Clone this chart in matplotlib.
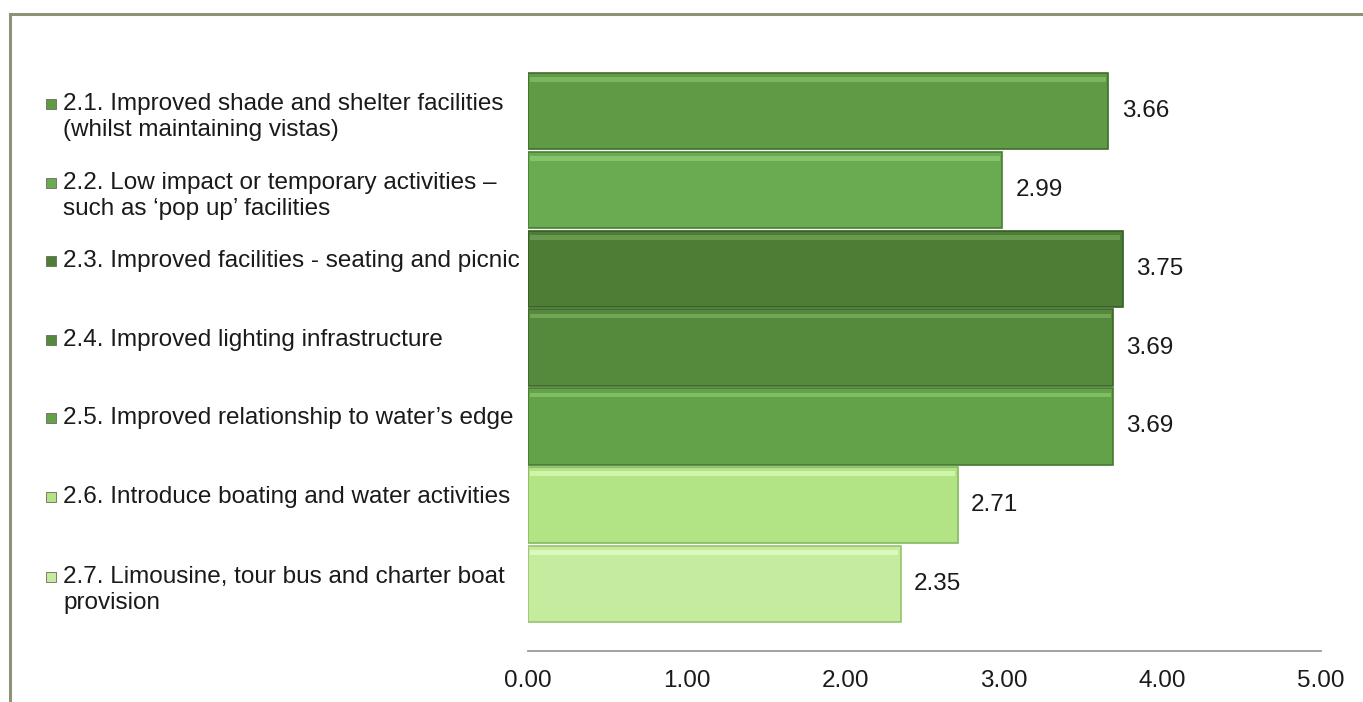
import matplotlib
matplotlib.use("Agg")
import matplotlib.pyplot as plt
from matplotlib.lines import Line2D

categories = [
    "2.1. Improved shade and shelter facilities\n(whilst maintaining vistas)",
    "2.2. Low impact or temporary activities \u2013\nsuch as \u2018pop up\u2019 facilities",
    "2.3. Improved facilities - seating and picnic",
    "2.4. Improved lighting infrastructure",
    "2.5. Improved relationship to water\u2019s edge",
    "2.6. Introduce boating and water activities",
    "2.7. Limousine, tour bus and charter boat\nprovision",
]
values = [3.66, 2.99, 3.75, 3.69, 3.69, 2.71, 2.35]
value_labels = ["3.66", "2.99", "3.75", "3.69", "3.69", "2.71", "2.35"]
colors = ["#5f9a45", "#6aaa50", "#4e7e36", "#558a3c", "#64a24a", "#b2e384", "#c5eb9f"]
edge_colors = ["#3f6e2c", "#477f32", "#355d24", "#3a6628", "#437a30", "#86b860", "#96c472"]
highlight = ["#7cb560", "#86c46a", "#6a9a50", "#70a656", "#80bd64", "#d0f4aa", "#dcf8bd"]
xticks = [0, 1, 2, 3, 4, 5]
xtick_labels = ["0.00", "1.00", "2.00", "3.00", "4.00", "5.00"]

plt.rcParams['font.family'] = ['Liberation Sans', 'DejaVu Sans']
FS = 17.5

fig = plt.figure(figsize=(13.63, 7.02), dpi=100)
ax = fig.add_axes([528/1363, 51/702, (1321-528)/1363, (672-51)/702])

n = len(categories)
ypos = [n - 1 - i for i in range(n)]

ax.barh(ypos, values, height=0.97, color=colors, edgecolor=edge_colors, linewidth=1.2, zorder=2)
# glossy highlight strip near top of each bar
ax.barh([y + 0.40 for y in ypos], [v - 0.03 for v in values], height=0.06, left=0.015,
        color=highlight, linewidth=0, zorder=3)

for y, v, lab in zip(ypos, values, value_labels):
    ax.annotate(lab, (v, y), xytext=(9.5, 0), textcoords="offset points",
                va="center", ha="left", fontsize=FS, color="#1a1a1a")

ax.set_xlim(0.0, 5.0)
ax.set_ylim(-0.85, 7.03)
ax.set_xticks(xticks)
ax.set_xticklabels(xtick_labels, fontsize=FS, color="#1a1a1a")
ax.tick_params(axis="x", length=0, pad=14)
ax.set_yticks([])
for s in ["top", "right", "left"]:
    ax.spines[s].set_visible(False)
ax.spines["bottom"].set_color("#9a9a9a")
ax.spines["bottom"].set_linewidth(1.3)
ax.patch.set_alpha(0)

H = 702
# category labels with small square markers
for y, cat, c in zip(ypos, categories, colors):
    disp = ax.transData.transform((0, y))
    fy = disp[1] / fig.bbox.height
    nl = cat.count("\n")
    if nl == 0:
        fy += 8 / H
        first = fy
    else:
        fy -= 6 / H
        first = fy + 13 / H
    fig.text(63/1363, fy, cat, ha="left", va="center", fontsize=FS,
             color="#1a1a1a", linespacing=1.2)
    fig.add_artist(Line2D([51/1363], [first], marker="s", markersize=7.5,
                          color=c, markeredgecolor="#6a6a5a", markeredgewidth=0.6,
                          transform=fig.transFigure))

# frame lines (top and left) of the chart area
fig.add_artist(Line2D([10/1363, 1.0], [1 - 14/702, 1 - 14/702], color="#8c9478", lw=2.2,
                      transform=fig.transFigure))
fig.add_artist(Line2D([10/1363, 10/1363], [0, 1 - 14/702], color="#8c9478", lw=2.2,
                      transform=fig.transFigure))

fig.savefig("out.png", dpi=100, facecolor="white")
